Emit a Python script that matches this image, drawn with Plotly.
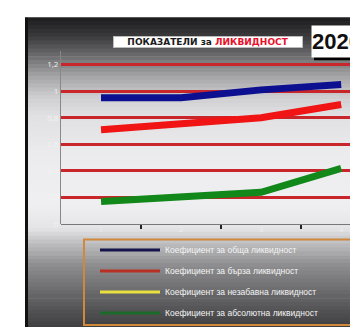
import numpy as np
import plotly.graph_objects as go

# ---- data ----
periods = [1, 2, 3, 4]
period_labels = ["1", "2", "3", "4"]
obshta = [0.95, 0.95, 1.01, 1.05]       # Коефициент за обща ликвидност
barza = [0.71, 0.75, 0.80, 0.90]        # Коефициент за бърза ликвидност
nezabavna = [None, None, None, None]    # Коефициент за незабавна ликвидност (not drawn)
absolutna = [0.17, 0.21, 0.24, 0.42]    # Коефициент за абсолютна ликвидност
y_ticks = [0, 0.2, 0.4, 0.6, 0.8, 1.0, 1.2]
y_tick_labels = ["0", "0,2", "0,4", "0,6", "0,8", "1", "1,2"]

W, H = 358, 327

fig = go.Figure()
series = [
    ("Коефициент за обща ликвидност", obshta, "#0c1090", "#14144a"),
    ("Коефициент за бърза ликвидност", barza, "#f01414", "#b83024"),
    ("Коефициент за незабавна ликвидност", nezabavna, "#f2e830", "#e8e040"),
    ("Коефициент за абсолютна ликвидност", absolutna, "#12881a", "#1c6a2a"),
]
for i, (name, vals, col, lcol) in enumerate(series):
    fig.add_trace(go.Scatter(
        x=periods, y=vals, mode="lines", name=name, legendgroup=f"g{i}",
        showlegend=False, line=dict(color=col, width=7), hoverinfo="skip"))
for i, (name, vals, col, lcol) in enumerate(series):
    # legend entry with a thinner line sample
    fig.add_trace(go.Scatter(
        x=[None], y=[None], mode="lines", name=name, legendgroup=f"g{i}",
        showlegend=True, line=dict(color=lcol, width=3), hoverinfo="skip"))

# ---- background gradient (decoration) ----
stops_y = [10, 30, 50, 70, 90, 110, 150, 200, 225, 240, 260, 290, 327]
stops_g = [28, 60, 110, 165, 205, 225, 236, 240, 228, 190, 145, 105, 60]
shapes = []
n = 80
edges = np.linspace(10, H, n + 1)
for k in range(n):
    y0, y1 = edges[k], edges[k + 1]
    g = int(np.interp((y0 + y1) / 2, stops_y, stops_g))
    shapes.append(dict(type="rect", xref="paper", yref="paper", layer="below",
                       x0=17 / W, x1=1, y0=1 - y1 / H, y1=1 - y0 / H + 0.002,
                       line=dict(width=0), fillcolor=f"rgb({g},{g},{g+2})"))
# dark left border
shapes.append(dict(type="rect", xref="paper", yref="paper", layer="below",
                   x0=17 / W, x1=20 / W, y0=0, y1=1 - 10 / H,
                   line=dict(width=0), fillcolor="#111111"))
# legend frame
shapes.append(dict(type="rect", xref="paper", yref="paper", layer="above",
                   x0=76 / W, x1=349 / W, y0=1 - 322 / H, y1=1 - 235 / H,
                   line=dict(color="#d0883a", width=2), fillcolor="rgba(0,0,0,0)"))
# shadow of 2020 box
shapes.append(dict(type="rect", xref="paper", yref="paper", layer="above",
                   x0=306 / W, x1=1, y0=1 - 53 / H, y1=1 - 20 / H,
                   line=dict(width=0), fillcolor="#000000"))

annotations = [
    dict(xref="paper", yref="paper", x=105 / W, y=1 - 28 / H, xanchor="left", yanchor="top",
         text="<b>ПОКАЗАТЕЛИ за <span style='color:#e8102a'>ЛИКВИДНОСТ</span></b>",
         showarrow=False, bgcolor="white", width=188, height=10,
         font=dict(family="DejaVu Sans", size=9, color="#1a1a1a"),
         borderpad=0, borderwidth=1, bordercolor="#bbbbbb"),
    dict(xref="paper", yref="paper", x=303 / W, y=1 - 17 / H, xanchor="left", yanchor="top",
         text="<b>2020</b>", showarrow=False, bgcolor="white", width=70, height=31,
         align="left",
         font=dict(family="Liberation Sans, Arial", size=22, color="#111111"),
         borderpad=0),
]

fig.update_layout(
    width=W, height=H, margin=dict(l=0, r=0, t=0, b=0),
    paper_bgcolor="white", plot_bgcolor="rgba(0,0,0,0)",
    shapes=shapes, annotations=annotations,
    showlegend=True,
    legend=dict(x=87 / W, y=1 - 231 / H, xanchor="left", yanchor="top",
                bgcolor="rgba(0,0,0,0)", borderwidth=0, tracegroupgap=2,
                font=dict(family="Liberation Sans, Arial", size=8.5, color="#f4f4f4"),
                itemwidth=60),
    xaxis=dict(domain=[53 / W, 1], range=[0.5, 4.31], showgrid=False, zeroline=False,
               tickmode="array", tickvals=periods, ticktext=period_labels,
               ticks="", tickfont=dict(size=7, color="#eeeeee"),
               showline=False,
               minor=dict(tickmode="array", tickvals=[1.5, 2.5, 3.5], ticks="outside",
                          ticklen=4, tickcolor="#222222", tickwidth=2)),
    yaxis=dict(domain=[1 - 219.5 / H, 1 - 44 / H], range=[0, 1.3],
               tickmode="array", tickvals=y_ticks, ticktext=y_tick_labels,
               tickfont=dict(size=8, color="#f2f2f2"),
               showgrid=True, gridcolor="#c8262a", gridwidth=2.5,
               zeroline=True, zerolinecolor="#777777", zerolinewidth=1,
               showline=True, linecolor="#888888", linewidth=1, ticks=""),
)

fig.write_html("out.html")
